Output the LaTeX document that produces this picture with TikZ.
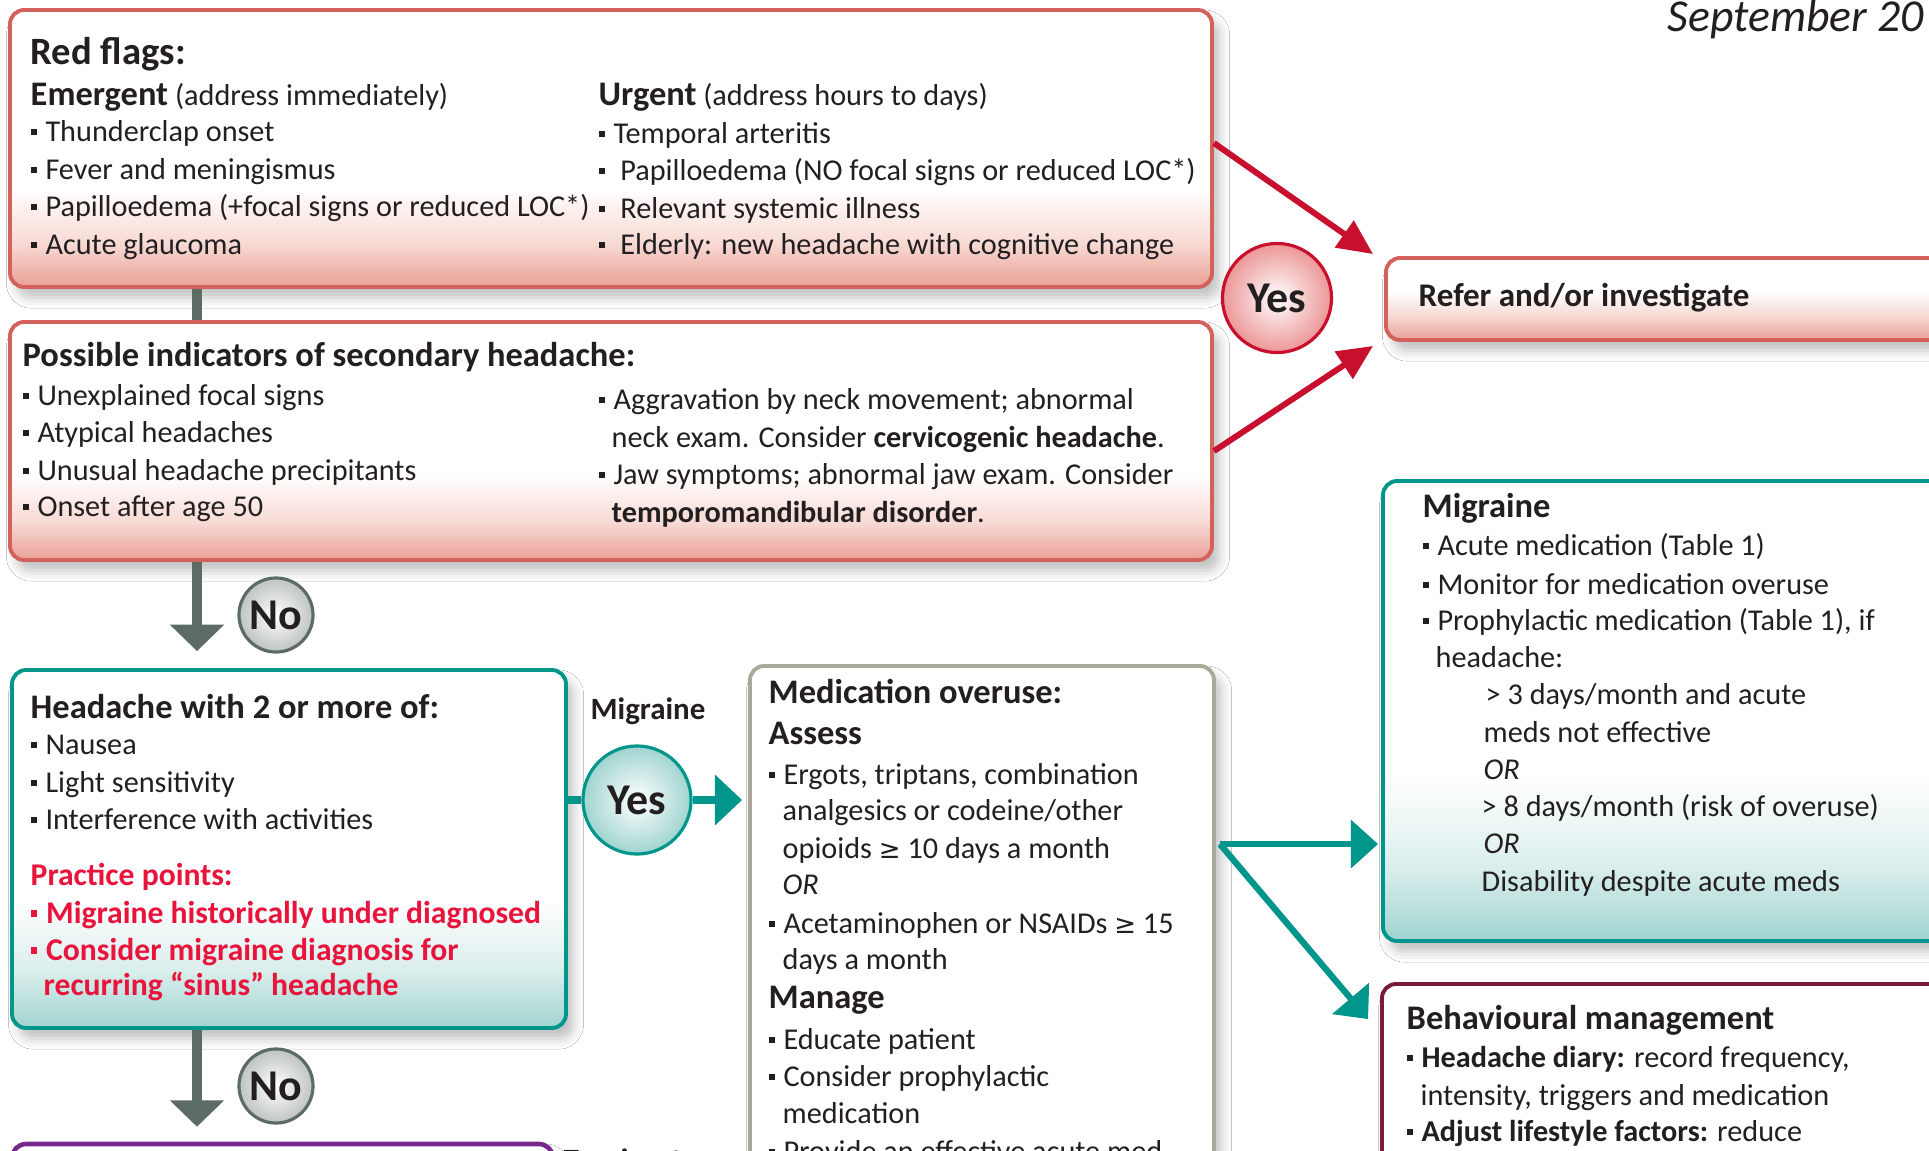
\documentclass[tikz,border=0pt]{standalone}
\usepackage{fontspec}
\setmainfont{Carlito}
\newfontfamily\symfont{DejaVu Sans}
\usetikzlibrary{arrows.meta,shadows.blur,fit,calc}

% palette
\definecolor{ink}{RGB}{35,31,32}
\definecolor{rfedge}{RGB}{212,98,92}
\definecolor{rfpink}{RGB}{234,160,150}
\definecolor{rfmid}{RGB}{247,218,212}
\definecolor{crimson}{RGB}{200,16,46}
\definecolor{tealedge}{RGB}{0,150,140}
\definecolor{tealfill}{RGB}{160,212,208}
\definecolor{tealmid}{RGB}{218,238,236}
\definecolor{arrowgray}{RGB}{92,107,100}
\definecolor{nofill}{RGB}{190,196,192}
\definecolor{medgray}{RGB}{170,168,152}
\definecolor{behedge}{RGB}{122,26,58}
\definecolor{ttedge}{RGB}{120,40,140}
\definecolor{practred}{RGB}{232,20,60}
\definecolor{yesred}{RGB}{236,150,150}

% box fills: white above, tinted band at the bottom
\pgfdeclareverticalshading{redfade}{100bp}{color(0bp)=(rfpink); color(25bp)=(rfpink); color(33bp)=(rfmid); color(43bp)=(white); color(100bp)=(white)}
\pgfdeclareverticalshading{referfade}{100bp}{color(0bp)=(rfpink); color(25bp)=(rfpink); color(40bp)=(rfmid); color(55bp)=(white); color(100bp)=(white)}
\pgfdeclareverticalshading{tealfade}{100bp}{color(0bp)=(tealfill); color(25bp)=(tealfill); color(33bp)=(tealmid); color(43bp)=(white); color(100bp)=(white)}

% small square list marker and the greater-or-equal sign
\newcommand\bul{\raisebox{0.2em}{\rule{0.21em}{0.21em}}\hspace{0.28em}}
\newcommand\gequ{{\symfont\fontsize{7.4}{8}\selectfont ≥}}

\newcommand\tx[3]{\node[txt] (#1) at (#2) {#3};}
\newcommand\hx[3]{\node[head] (#1) at (#2) {#3};}
\newcommand\px[3]{\node[ptxt] (#1) at (#2) {#3};}

\begin{document}
\begin{tikzpicture}[x=0.01cm, y=-0.01cm,
  txt/.style={anchor=mid west, inner sep=0pt, text=ink, font=\fontsize{8.6}{10}\selectfont},
  head/.style={anchor=mid west, inner sep=0pt, text=ink, font=\fontsize{9.8}{11}\selectfont\bfseries},
  ptxt/.style={anchor=mid west, inner sep=0pt, text=practred, font=\fontsize{9}{10}\selectfont\bfseries},
  box/.style={rounded corners=4pt, line width=1.1pt, inner sep=0pt,
    blur shadow={shadow xshift=2pt, shadow yshift=-3pt, shadow blur radius=3pt, shadow opacity=25}},
  redbox/.style={box, draw=rfedge, shading=redfade},
  referbox/.style={box, draw=rfedge, shading=referfade},
  tealbox/.style={box, draw=tealedge, shading=tealfade},
  medbox/.style={box, draw=medgray, fill=white},
  behbox/.style={box, draw=behedge, fill=white},
  ttbox/.style={box, draw=ttedge, line width=1.3pt, fill=white},
  bubble/.style={circle, inner sep=0pt, line width=0.9pt, text=ink,
    font=\fontsize{12.5}{14}\selectfont\bfseries},
  yesredc/.style={bubble, minimum size=1.09cm, draw=crimson, inner color=white, outer color=yesred},
  yestealc/.style={bubble, minimum size=1.08cm, draw=tealedge, inner color=white, outer color=tealfill},
  noc/.style={bubble, minimum size=0.74cm, draw=arrowgray, inner color=white, outer color=nofill},
  redarrow/.style={draw=crimson, line width=1.7pt, -{Triangle[length=10pt, width=9pt]}},
  grayline/.style={draw=arrowgray, line width=2.8pt},
  grayarrow/.style={grayline, -{Triangle[length=7.5pt, width=15pt]}},
  tealline/.style={draw=tealedge, line width=2pt},
  tealarrow/.style={tealline, -{Triangle[length=7.7pt, width=14pt]}},
  tealarrow2/.style={draw=tealedge, line width=1.8pt, -{Triangle[length=7.7pt, width=13.4pt]}}
]
\useasboundingbox (0,0) rectangle (1929,1151);
\clip (0,0) rectangle (1929,1151);
\fill[white] (0,0) rectangle (1929,1151);

% ---------- boxes ----------
\node[redbox, fit={(10,10) (1212,287)}] (rf) {};
\node[redbox, fit={(10,322) (1212,560)}] (sec) {};
\node[referbox, fit={(1386,258) (2010,340)}] (refer) {};
\node[tealbox, fit={(12,670) (566,1028)}] (hd) {};
\node[medbox, fit={(750,666) (1214,1260)}] (med) {};
\node[tealbox, fit={(1383,481) (2010,941)}] (migbox) {};
\node[behbox, fit={(1382,984) (2010,1300)}] (beh) {};
\node[ttbox, fit={(12,1144) (553,1300)}] (tt) {};

% ---------- decision bubbles ----------
\node[yesredc] (yesr) at (1277,298) {Yes};
\node[yestealc] (yest) at (637,800) {Yes};
\node[noc] (no1) at (276,615) {No};
\node[noc] (no2) at (276,1086) {No};

% ---------- connectors ----------
\coordinate (spine) at (197,0);
\draw[grayline] (rf.south -| spine) -- (sec.north -| spine);
\draw[grayarrow] (sec.south -| spine) -- ($(hd.north -| spine)+(0,-17)$);
\draw[grayarrow] (hd.south -| spine) -- ($(tt.north -| spine)+(0,-15)$);

\draw[redarrow] ($(rf.north east)+(0,135)$) -- ($(refer.north west)+(-11,-2)$);
\draw[redarrow] ($(sec.north east)+(0,131)$) -- ($(refer.south west)+(-11,4)$);

\draw[tealline] (hd.east |- yest) -- (yest.west);
\draw[tealarrow] (yest.east) -- ($(med.west |- yest)+(-6,0)$);

\coordinate (mo) at ($(med.north east)+(4,180)$);
\draw[tealarrow2] (mo) -- ($(mo -| migbox.west)+(-3,0)$);
\draw[tealarrow2] (mo) -- ($(beh.north west)+(-12,37)$);

% ---------- date ----------
\node[anchor=base west, inner sep=0pt, text=ink, font=\fontsize{13}{15}\selectfont\itshape] (sept) at (1667,31) {September 20};

% ---------- red flags ----------
\node[anchor=mid west, inner sep=0pt, text=ink, font=\fontsize{11}{12}\selectfont\bfseries] (rfh) at (30,56) {Red flags:};
\node[txt] (em) at (30,97) {{\fontsize{9.8}{11}\selectfont\bfseries Emergent} (address immediately)};
\tx{e1}{30,133}{\bul Thunderclap onset}
\tx{e2}{30,171}{\bul Fever and meningismus}
\tx{e3}{30,208}{\bul Papilloedema (+focal signs or reduced LOC*)}
\tx{e4}{30,246}{\bul Acute glaucoma}
\node[txt] (ur) at (598,97) {{\fontsize{9.8}{11}\selectfont\bfseries Urgent} (address hours to days)};
\tx{u1}{598,135}{\bul Temporal arteritis}
\tx{u2}{598,172}{\bul\ Papilloedema (NO focal signs or reduced LOC*)}
\tx{u3}{598,210}{\bul\ Relevant systemic illness}
\tx{u4}{598,246}{\bul\ Elderly: new headache with cognitive change}

% ---------- secondary headache ----------
\hx{sech}{22,358}{Possible indicators of secondary headache:}
\tx{s1}{22,397}{\bul Unexplained focal signs}
\tx{s2}{22,434}{\bul Atypical headaches}
\tx{s3}{22,472}{\bul Unusual headache precipitants}
\tx{s4}{22,508}{\bul Onset after age 50}
\tx{s5}{598,401}{\bul Aggravation by neck movement; abnormal}
\tx{s6}{611,439}{neck exam. Consider \textbf{cervicogenic headache}.}
\tx{s7}{598,476}{\bul Jaw symptoms; abnormal jaw exam. Consider}
\tx{s8}{611,514}{\textbf{temporomandibular disorder}.}

% ---------- refer ----------
\node[anchor=mid west, inner sep=0pt, text=ink, font=\fontsize{9.4}{11}\selectfont\bfseries] (refert) at (1418,298) {Refer and/or investigate};

% ---------- headache with 2 or more ----------
\hx{hdh}{30,710}{Headache with 2 or more of:}
\tx{h1}{30,746}{\bul Nausea}
\tx{h2}{30,784}{\bul Light sensitivity}
\tx{h3}{30,821}{\bul Interference with activities}
\px{pp}{30,877}{Practice points:}
\px{p1}{30,915}{\bul Migraine historically under diagnosed}
\px{p2}{30,952}{\bul Consider migraine diagnosis for}
\px{p3}{43,987}{recurring “sinus” headache}

\node[anchor=mid, inner sep=0pt, text=ink, font=\fontsize{8.8}{10}\selectfont\bfseries] (migl) at (648,711) {Migraine};

% ---------- medication overuse ----------
\hx{mh}{768,695}{Medication overuse:}
\hx{ma}{768,736}{Assess}
\tx{m1}{768,776}{\bul Ergots, triptans, combination}
\tx{m2}{782,812}{analgesics or codeine/other}
\tx{m3}{782,850}{opioids \gequ\ 10 days a month}
\tx{m4}{782,886}{\textit{OR}}
\tx{m5}{768,925}{\bul Acetaminophen or NSAIDs \gequ\ 15}
\tx{m6}{782,961}{days a month}
\hx{mm}{768,1000}{Manage}
\tx{m7}{768,1041}{\bul Educate patient}
\tx{m8}{768,1078}{\bul Consider prophylactic}
\tx{m9}{782,1115}{medication}
\tx{m10}{768,1153}{\bul Provide an effective acute med}

% ---------- migraine ----------
\hx{mgh}{1422,509}{Migraine}
\tx{g1}{1422,547}{\bul Acute medication (Table 1)}
\tx{g2}{1422,586}{\bul Monitor for medication overuse}
\tx{g3}{1422,622}{\bul Prophylactic medication (Table 1), if}
\tx{g4}{1435,659}{headache:}
\tx{g5}{1485,696}{> 3 days/month and acute}
\tx{g6}{1483,734}{meds not effective}
\tx{g7}{1483,771}{\textit{OR}}
\tx{g8}{1481,808}{> 8 days/month (risk of overuse)}
\tx{g9}{1483,845}{\textit{OR}}
\tx{g10}{1481,883}{Disability despite acute meds}

% ---------- behavioural ----------
\hx{bh}{1406,1021}{Behavioural management}
\tx{b1}{1406,1059}{\bul \textbf{Headache diary:} record frequency,}
\tx{b2}{1420,1097}{intensity, triggers and medication}
\tx{b3}{1406,1133}{\bul \textbf{Adjust lifestyle factors:} reduce}

% ---------- tension-type ----------
\node[anchor=mid west, inner sep=0pt, text=ink, font=\fontsize{8.8}{10}\selectfont\bfseries] (ttl) at (563,1162) {Tension-type};
\end{tikzpicture}
\end{document}
